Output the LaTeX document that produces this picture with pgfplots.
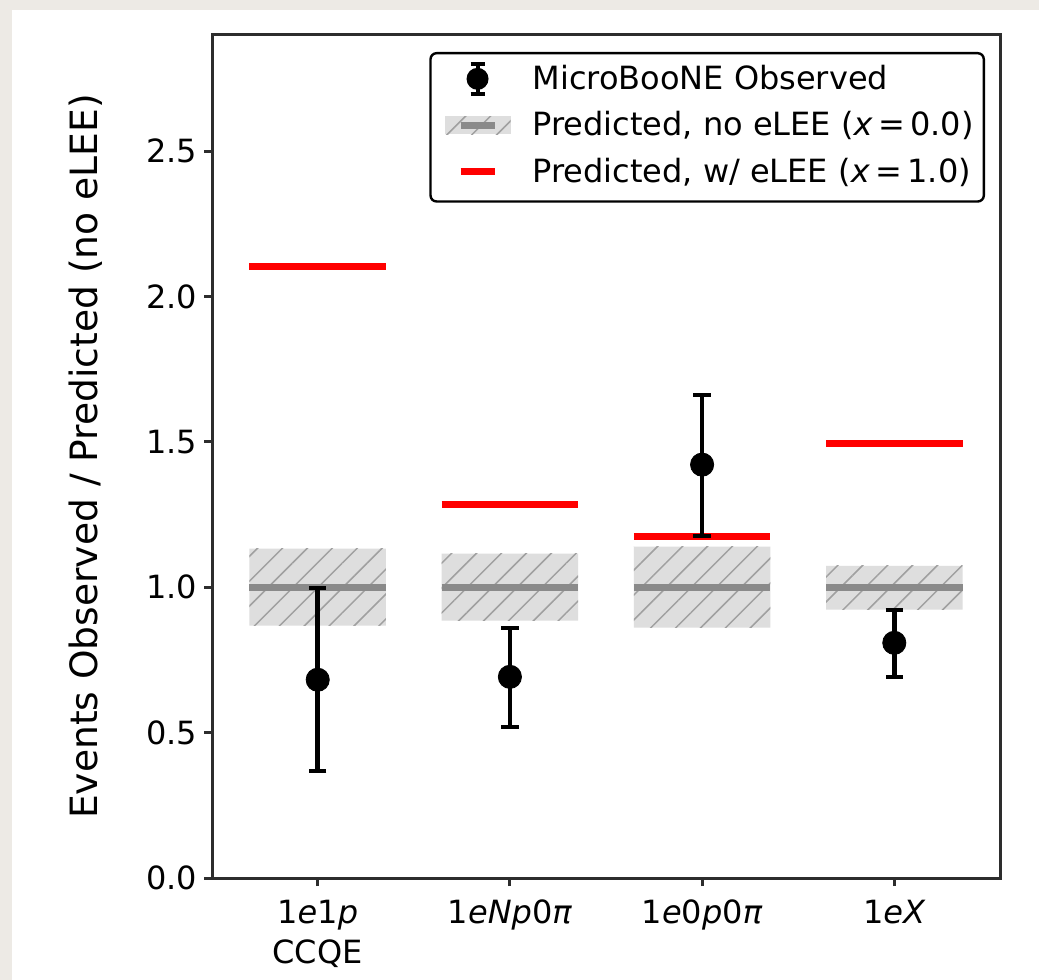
\documentclass[border=0pt]{standalone}
\usepackage{fontspec}
\setmainfont{DejaVu Sans}
\usepackage{pgfplots}
\pgfplotsset{compat=1.18}
\usetikzlibrary{patterns.meta}
\definecolor{bgbeige}{RGB}{237,234,229}
\definecolor{boxfill}{RGB}{222,222,222}
\definecolor{hatchgray}{RGB}{160,160,160}
\definecolor{midgray}{RGB}{138,138,138}
\definecolor{spine}{RGB}{45,45,45}
\begin{document}
\begin{tikzpicture}[font=\fontsize{16}{19.5}\selectfont]
\fill[bgbeige] (0,0) rectangle (519.5pt,490pt);
\fill[white] (6pt,0) rectangle (519.5pt,485pt);
\begin{axis}[
  at={(106pt,51pt)}, anchor=south west,
  scale only axis, width=394pt, height=421.5pt,
  xmin=-0.55, xmax=3.55, ymin=0, ymax=2.9,
  axis line style={spine, line width=1.5pt},
  tick style={spine, line width=1.5pt},
  tick align=outside, major tick length=4pt,
  tick pos=left,
  xtick={0,1,2,3},
  xticklabels={{1\textit{e}1\textit{p}\\CCQE},{1\textit{eNp}0\textit{π}},{1\textit{e}0\textit{p}0\textit{π}},{1\textit{eX}}},
  xticklabel style={align=center, font=\fontsize{16}{20}\selectfont, yshift=-3.5pt},
  ytick={0,0.5,1,1.5,2,2.5},
  yticklabel style={font=\fontsize{16}{19.5}\selectfont, /pgf/number format/.cd, fixed, fixed zerofill, precision=1},
  /pgf/number format/assume math mode=true,
  ylabel={Events Observed / Predicted (no eLEE)},
  ylabel style={at={(axis description cs:-0.160,0.5)}, anchor=center, font=\fontsize{18.8}{22}\selectfont},
  legend style={at={(1,1)}, anchor=north east, xshift=-7.5pt, yshift=-8.5pt,
    draw=black, line width=1.2pt, rounded corners=3pt, cells={anchor=west},
    font=\fontsize{16}{19.5}\selectfont, row sep=5.5pt, inner ysep=4pt},
]
% boxes
\addplot[forget plot, fill=boxfill, draw=none, postaction={pattern={Lines[angle=45,distance=8.8pt,line width=0.75pt]}, pattern color=hatchgray}] coordinates {(-0.355,0.868) (0.355,0.868) (0.355,1.133) (-0.355,1.133) (-0.355,0.868)};
\addplot[forget plot, fill=boxfill, draw=none, postaction={pattern={Lines[angle=45,distance=8.8pt,line width=0.75pt]}, pattern color=hatchgray}] coordinates {(0.645,0.885) (1.355,0.885) (1.355,1.116) (0.645,1.116) (0.645,0.885)};
\addplot[forget plot, fill=boxfill, draw=none, postaction={pattern={Lines[angle=45,distance=8.8pt,line width=0.75pt]}, pattern color=hatchgray}] coordinates {(1.645,0.861) (2.355,0.861) (2.355,1.140) (1.645,1.140) (1.645,0.861)};
\addplot[forget plot, fill=boxfill, draw=none, postaction={pattern={Lines[angle=45,distance=8.8pt,line width=0.75pt]}, pattern color=hatchgray}] coordinates {(2.645,0.923) (3.355,0.923) (3.355,1.074) (2.645,1.074) (2.645,0.923)};
% central prediction lines
\addplot[forget plot, midgray, line width=3.5pt] coordinates {(-0.355,1) (0.355,1)};
\addplot[forget plot, midgray, line width=3.5pt] coordinates {(0.645,1) (1.355,1)};
\addplot[forget plot, midgray, line width=3.5pt] coordinates {(1.645,1) (2.355,1)};
\addplot[forget plot, midgray, line width=3.5pt] coordinates {(2.645,1) (3.355,1)};
% with eLEE
\addplot[forget plot, red, line width=3.5pt] coordinates {(-0.355,2.104) (0.355,2.104)};
\addplot[forget plot, red, line width=3.5pt] coordinates {(0.645,1.284) (1.355,1.284)};
\addplot[forget plot, red, line width=3.5pt] coordinates {(1.645,1.174) (2.355,1.174)};
\addplot[forget plot, red, line width=3.5pt] coordinates {(2.645,1.494) (3.355,1.494)};
% observed
\addplot[forget plot, only marks, black, mark=*, mark size=5.8pt, mark options={solid, fill=black, draw=black},
  error bars/.cd, y dir=both, y explicit,
  error bar style={line width=2.3pt, black},
  error mark options={rotate=90, mark size=4.3pt, line width=2pt, black}]
  coordinates {(0,0.682) += (0,0.316) -= (0,0.314)
               (1,0.692) += (0,0.169) -= (0,0.172)
               (2,1.422) += (0,0.241) -= (0,0.244)
               (3,0.809) += (0,0.114) -= (0,0.117)};
% legend
\addlegendimage{legend image code/.code={
  \draw[draw=black, line width=2pt, sharp corners] (16.5pt,-7.5pt) -- (16.5pt,7.5pt);
  \draw[draw=black, line width=2pt, sharp corners] (13pt,-7.5pt) -- (20pt,-7.5pt);
  \draw[draw=black, line width=2pt, sharp corners] (13pt,7.5pt) -- (20pt,7.5pt);
  \fill[fill=black, draw=none] (16.5pt,0pt) circle (5.5pt);
  \path[draw=none, fill=none] (-4pt,0pt) -- (42pt,0pt);
}}
\addlegendentry{MicroBooNE Observed}
\addlegendimage{legend image code/.code={
  \fill[fill=boxfill, draw=none, sharp corners] (0pt,-4.5pt) rectangle (33pt,4.5pt);
  \fill[draw=none, pattern={Lines[angle=45,distance=8.8pt,line width=0.75pt]}, pattern color=hatchgray, sharp corners] (0pt,-4.5pt) rectangle (33pt,4.5pt);
  \draw[draw=midgray, line width=3.5pt, sharp corners] (8pt,0pt) -- (25pt,0pt);
  \path[draw=none, fill=none] (-4pt,0pt) -- (42pt,0pt);
}}
\addlegendentry{Predicted, no eLEE (\textit{x}\,=\,0.0)}
\addlegendimage{legend image code/.code={
  \draw[draw=red, line width=3.5pt, sharp corners] (8pt,0pt) -- (25pt,0pt);
  \path[draw=none, fill=none] (-4pt,0pt) -- (42pt,-11pt);
}}
\addlegendentry{Predicted, w/ eLEE (\textit{x}\,=\,1.0)}
\end{axis}
\pgfresetboundingbox
\useasboundingbox (0,0) rectangle (519.5pt,490pt);
\end{tikzpicture}
\end{document}
